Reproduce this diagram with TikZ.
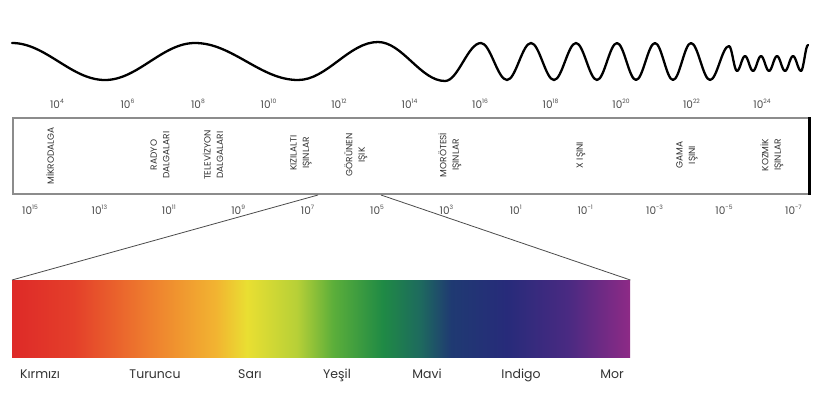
\documentclass[tikz,border=0pt]{standalone}
\usepackage{fontspec}
\setmainfont{Poppins}
\usetikzlibrary{positioning}

\definecolor{specA}{HTML}{DE2A28}
\definecolor{specB}{HTML}{E43F2A}
\definecolor{specC}{HTML}{EE7D2E}
\definecolor{specD}{HTML}{F2B431}
\definecolor{specE}{HTML}{E9DF32}
\definecolor{specF}{HTML}{B8D037}
\definecolor{specG}{HTML}{5BAE3A}
\definecolor{specH}{HTML}{1F8A45}
\definecolor{specI}{HTML}{1E6A5E}
\definecolor{specJ}{HTML}{1F3A72}
\definecolor{specK}{HTML}{272B7A}
\definecolor{specL}{HTML}{4A2A82}
\definecolor{specM}{HTML}{8E2A86}

\pgfdeclarehorizontalshading{spectrum}{100bp}{%
  color(0bp)=(specA); color(25bp)=(specA); color(30bp)=(specB);
  color(36bp)=(specC); color(41.5bp)=(specD); color(44bp)=(specE);
  color(48bp)=(specF); color(51bp)=(specG); color(55bp)=(specH);
  color(58bp)=(specI); color(60.5bp)=(specJ); color(65bp)=(specK);
  color(70bp)=(specL); color(75bp)=(specM); color(100bp)=(specM)}

\newcommand{\pw}[1]{10\raisebox{0.8ex}{\fontsize{6}{6}\selectfont #1}}

\tikzset{
  wave/.style={line width=2.3pt, line cap=round, line join=round},
  band/.style={draw=black!45, line width=1.6pt, inner sep=0pt},
  bandlabel/.style={rotate=90, align=center, text=black!80,
    font=\fontsize{9}{12.5}\selectfont},
  tick/.style={anchor=base, text=black!70,
    font=\fontsize{10.5}{12}\selectfont},
  zoomline/.style={draw=black!70, line width=0.8pt},
  colourlabel/.style={anchor=base, text=black!80,
    font=\fontsize{12.5}{14}\selectfont},
}

\begin{document}
\begin{tikzpicture}[x=1pt,y=-1pt]
  \useasboundingbox[fill=white] (0,0) rectangle (825,408);
  % the wave, from one turning point to the next
  \draw[wave] (12,43) foreach \x/\y [remember=\x as \lx (initially 12),
      remember=\y as \ly (initially 43)] in
    {105/80, 195/43, 298/80, 378/42, 445/81, 481/43, 507/80, 531/43,
     554/80, 576/43, 597/80, 617/43, 636/80, 655/43, 673/80, 691/43,
     710/80, 729/46, 737/71, 745/56, 753/71, 761/56, 769/71, 777/56,
     785/71, 793/56, 801/71, 808/45}
    { cos ({(\lx+\x)/2},{(\ly+\y)/2}) sin (\x,\y) };

  % the band with its scales
  \node[band, minimum width=796pt, minimum height=76pt, anchor=north west]
    (band) at (12,117) {};
  \draw[line width=3pt] (band.north east) -- (band.south east);
  \foreach \e [count=\i from 0] in {4,6,...,24}
    \node[tick] (freq\i) at ({57+70.5*\i},108) {\pw{\e}};
  \foreach \e [count=\i from 0] in {15,13,11,9,7,5,3,1,-1,-3,-5,-7}
    \node[tick] (wave\i) at ({30+69.4*\i},214) {\pw{\e}};

  \node[bandlabel] (mikro) at (50,156) {MİKRODALGA};
  \node[bandlabel] (radyo) at (160,155) {RADYO\\DALGALARI};
  \node[bandlabel] (tele) at (213,155) {TELEVİZYON\\DALGALARI};
  \node[bandlabel] (kizil) at (301,153) {KIZILALTI\\IŞINLAR};
  \node[bandlabel] (gorunen) at (356,155) {GÖRÜNEN\\IŞIK};
  \node[bandlabel] (morotesi) at (450,155) {MORÖTESİ\\IŞINLAR};
  \node[bandlabel] (xisini) at (581,155) {X IŞINI};
  \node[bandlabel] (gama) at (687,155) {GAMA\\IŞINI};
  \node[bandlabel] (kozmik) at (772,155) {KOZMİK\\IŞINLAR};

  % visible part, spread out
  \node[shading=spectrum, minimum width=618pt, minimum height=77pt,
    inner sep=0pt, anchor=north west] (spec) at (12,280) {};
  \coordinate (visl) at (318,195);
  \coordinate (visr) at (381,195);
  \draw[zoomline] (visl) -- (spec.north west);
  \draw[zoomline] (visr) -- (spec.north east);

  \node[colourlabel] (kirmizi) at (40,378) {Kırmızı};
  \node[colourlabel] (turuncu) at (155,378) {Turuncu};
  \node[colourlabel] (sari) at (250,378) {Sarı};
  \node[colourlabel] (yesil) at (337,378) {Yeşil};
  \node[colourlabel] (mavi) at (427,378) {Mavi};
  \node[colourlabel] (indigo) at (521,378) {Indigo};
  \node[colourlabel] (mor) at (612,378) {Mor};
\end{tikzpicture}
\end{document}
